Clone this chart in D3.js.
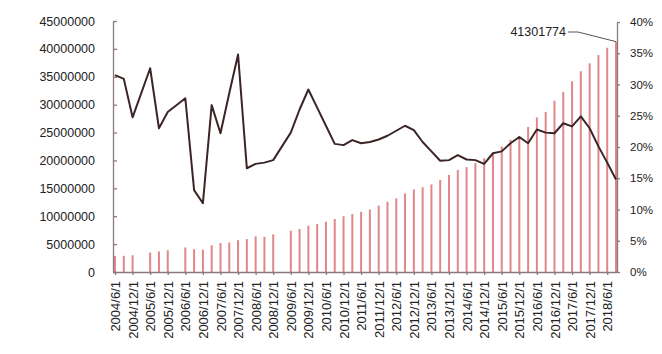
<!DOCTYPE html>
<html>
<head>
  <script src="https://cdnjs.cloudflare.com/ajax/libs/d3/7.8.5/d3.min.js" type="text/javascript"></script>
  <style>
    body { margin: 0; background: #fff; }
    text { font-family: Arial, "Liberation Sans", sans-serif; fill: #222; }
  </style>
</head>
<body>
  <svg id="chart" width="662" height="354"></svg>
  <script>

// quarterly dates
var dates = [
  "2004/6/1", "2004/9/1", "2004/12/1",
  "2005/3/1", "2005/6/1", "2005/9/1", "2005/12/1",
  "2006/3/1", "2006/6/1", "2006/9/1", "2006/12/1",
  "2007/3/1", "2007/6/1", "2007/9/1", "2007/12/1",
  "2008/3/1", "2008/6/1", "2008/9/1", "2008/12/1",
  "2009/3/1", "2009/6/1", "2009/9/1", "2009/12/1",
  "2010/3/1", "2010/6/1", "2010/9/1", "2010/12/1",
  "2011/3/1", "2011/6/1", "2011/9/1", "2011/12/1",
  "2012/3/1", "2012/6/1", "2012/9/1", "2012/12/1",
  "2013/3/1", "2013/6/1", "2013/9/1", "2013/12/1",
  "2014/3/1", "2014/6/1", "2014/9/1", "2014/12/1",
  "2015/3/1", "2015/6/1", "2015/9/1", "2015/12/1",
  "2016/3/1", "2016/6/1", "2016/9/1", "2016/12/1",
  "2017/3/1", "2017/6/1", "2017/9/1", "2017/12/1",
  "2018/3/1", "2018/6/1", "2018/9/1"
];

// bar values (left axis), null = no data
var amounts = [
  2900000, 2900000, 3000000,
  null, 3500000, 3700000, 3900000,
  null, 4400000, 4100000, 4000000,
  4800000, 5200000, 5300000, 5700000,
  5900000, 6400000, 6300000, 6750000,
  null, 7400000, 7700000, 8300000,
  8600000, 9000000, 9500000, 10000000,
  10400000, 10800000, 11200000, 11900000,
  12600000, 13200000, 14100000, 14800000,
  15200000, 15700000, 16500000, 17400000,
  18300000, 18800000, 19500000, 20400000,
  21400000, 22500000, 23700000, 24300000,
  26000000, 27700000, 28700000, 30700000,
  32300000, 34200000, 36000000, 37400000,
  38900000, 40200000, 41301774
];

// growth rate in % (right axis)
var growth = [
  31.5, 30.9, 24.75,
  null, 32.6, 23.0, 25.6,
  null, 27.8, 13.1, 11.0,
  26.7, 22.2, 28.6, 34.8,
  16.6, 17.3, 17.5, 17.9,
  null, 22.3, 26.0, 29.2,
  26.3, 23.4, 20.5, 20.3,
  21.1, 20.6, 20.8, 21.2,
  21.8, 22.6, 23.4, 22.7,
  20.8, 19.3, 17.8, 17.9,
  18.7, 18.0, 17.9, 17.3,
  19.0, 19.3, 20.6, 21.6,
  20.6, 22.8, 22.3, 22.2,
  23.8, 23.3, 24.9, 23.0,
  20.1, 17.5, 14.8
];

var leftTicks = [0, 5000000, 10000000, 15000000, 20000000, 25000000, 30000000, 35000000, 40000000, 45000000];
var rightTicks = [0, 5, 10, 15, 20, 25, 30, 35, 40];
var xLabels = dates.filter(function(d, i) { return i % 2 === 0; });

var svg = d3.select("#chart");
var axisColor = "#8a7a7a";

var x = d3.scalePoint()
  .domain(dates)
  .range([115, 616]);

var yLeft = d3.scaleLinear()
  .domain([0, 45000000])
  .range([272, 21]);

var yRight = d3.scaleLinear()
  .domain([0, 40])
  .range([272, 22]);

// bars
var barData = dates.map(function(d, i) { return { date: d, value: amounts[i] }; })
  .filter(function(d) { return d.value != null; });

svg.append("g")
  .selectAll("rect")
  .data(barData)
  .enter()
  .append("rect")
  .attr("x", d => x(d.date) - 1)
  .attr("width", 2)
  .attr("y", d => yLeft(d.value))
  .attr("height", d => yLeft(0) - yLeft(d.value))
  .style("fill", "#e08888");

// left axis
var gLeft = svg.append("g")
  .attr("transform", "translate(113,0)")
  .call(d3.axisLeft(yLeft).tickValues(leftTicks).tickSizeInner(-4).tickSizeOuter(0).tickPadding(18).tickFormat(d3.format("d")));

// right axis
var gRight = svg.append("g")
  .attr("transform", "translate(617,0)")
  .call(d3.axisRight(yRight).tickValues(rightTicks).tickSizeInner(3).tickSizeOuter(0).tickPadding(10).tickFormat(d => d + "%"));

// bottom axis
var gBottom = svg.append("g")
  .attr("transform", "translate(0,272)")
  .call(d3.axisBottom(x).tickValues(xLabels).tickSizeInner(3).tickSizeOuter(0));

gBottom.select(".domain").attr("d", "M113,0.5H617");

gBottom.selectAll("text")
  .attr("transform", "rotate(-90)")
  .attr("text-anchor", "end")
  .attr("x", -9)
  .attr("y", 0)
  .attr("dy", "0.35em")
  .style("font-size", "13px");

gLeft.selectAll("text").style("font-size", "12.5px");
gRight.selectAll("text").style("font-size", "11.5px").attr("x", 13);

[gLeft, gRight, gBottom].forEach(function(g) {
  g.selectAll(".domain, line").attr("stroke", axisColor).attr("stroke-width", 1.3);
});

// growth line
var lineData = dates.map(function(d, i) { return { date: d, value: growth[i] }; })
  .filter(function(d) { return d.value != null; });

var line = d3.line()
  .x(d => x(d.date))
  .y(d => yRight(d.value));

svg.append("path")
  .datum(lineData)
  .attr("d", line)
  .style("fill", "none")
  .style("stroke", "#3b2526")
  .style("stroke-width", 2)
  .style("stroke-linejoin", "round");

// annotation for last bar
var last = barData[barData.length - 1];
var lx = x(last.date), ly = yLeft(last.value);

svg.append("path")
  .attr("d", "M568,32H578L" + lx + "," + ly)
  .style("fill", "none")
  .style("stroke", "#555")
  .style("stroke-width", 1);

svg.append("text")
  .attr("x", 566)
  .attr("y", 32)
  .attr("dy", "0.35em")
  .attr("text-anchor", "end")
  .style("font-size", "12.5px")
  .text(d3.format("d")(last.value));

  </script>
</body>
</html>
